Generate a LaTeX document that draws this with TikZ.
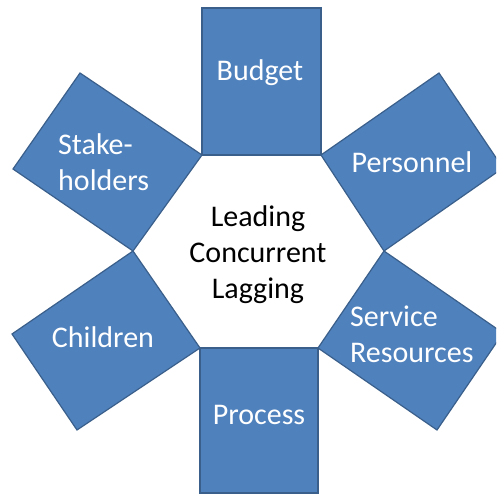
\documentclass[tikz,border=0pt]{standalone}
\usepackage{fontspec}
\setmainfont{Carlito}
\definecolor{boxblue}{HTML}{4F81BD}
\definecolor{boxline}{HTML}{3A5F8B}
\begin{document}
\begin{tikzpicture}[x=1pt,y=-1pt,
  panel/.style={fill=boxblue,draw=boxline,line width=1.2pt,line join=miter},
  wlabel/.style={text=white,inner sep=0pt,font=\fontsize{30}{36}\selectfont},
  blabel/.style={text=black,inner sep=0pt,font=\fontsize{30}{36}\selectfont}]
\fill[white] (0,0) rectangle (496,496);
\useasboundingbox (0,0) rectangle (496,496);
\clip (0,0) rectangle (496,496);
% hexagon vertices
\coordinate (h1) at (202,155);
\coordinate (h2) at (321,155);
\coordinate (h3) at (384,251);
\coordinate (h4) at (318,348);
\coordinate (h5) at (200,348);
\coordinate (h6) at (133,251);
% outer corners
\coordinate (b1) at (202,8);
\coordinate (b2) at (321,8);
\coordinate (p1) at (439,73);
\coordinate (p2) at (503,168);
\coordinate (s1) at (503,333);
\coordinate (s2) at (437,430);
\coordinate (r1) at (318,493);
\coordinate (r2) at (200,493);
\coordinate (c1) at (77,430);
\coordinate (c2) at (12,334);
\coordinate (k1) at (13,169);
\coordinate (k2) at (80,73);
% panels
\draw[panel] (h1) -- (b1) -- (b2) -- (h2) -- cycle;
\draw[panel] (h2) -- (p1) -- (p2) -- (h3) -- cycle;
\draw[panel] (h3) -- (s1) -- (s2) -- (h4) -- cycle;
\draw[panel] (h4) -- (r1) -- (r2) -- (h5) -- cycle;
\draw[panel] (h5) -- (c1) -- (c2) -- (h6) -- cycle;
\draw[panel] (h6) -- (k1) -- (k2) -- (h1) -- cycle;
% labels
\node[wlabel,anchor=base] (budget) at (260,80) {Budget};
\node[wlabel,anchor=base] (personnel) at (412,172) {Personnel};
\node[wlabel,anchor=base west,align=left] (service) at (350,362) {Service\\Resources};
\node[wlabel,anchor=base] (process) at (259,424) {Process};
\node[wlabel,anchor=base] (children) at (103,347) {Children};
\node[wlabel,anchor=base west,align=left] (stake) at (58,190) {Stake-\\holders};
\node[blabel,anchor=base,align=center] (center) at (258,298) {Leading\\Concurrent\\Lagging};
\end{tikzpicture}
\end{document}
